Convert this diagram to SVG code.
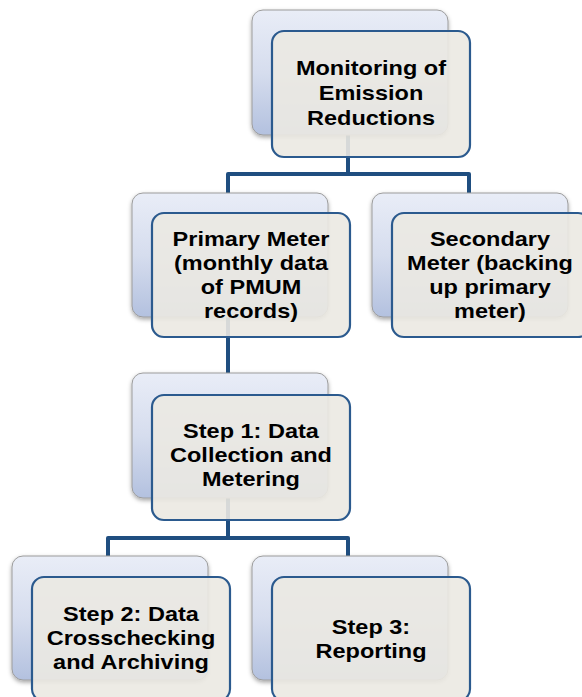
<svg xmlns="http://www.w3.org/2000/svg" width="582" height="697" viewBox="0 0 582 697">
  <defs>
    <linearGradient id="backGrad" x1="0" y1="0" x2="0" y2="1">
      <stop offset="0" stop-color="#e9edf7"/>
      <stop offset="0.5" stop-color="#d6ddee"/>
      <stop offset="1" stop-color="#b3c1df"/>
    </linearGradient>
    <filter id="shadow" x="-10%" y="-10%" width="120%" height="125%">
      <feDropShadow dx="0" dy="2" stdDeviation="2" flood-color="#000" flood-opacity="0.35"/>
    </filter>
  </defs>
  <style>
    .back { fill: url(#backGrad); stroke: #9c9c9c; stroke-width: 1; filter: url(#shadow); }
    .front { fill: #ebe9e2; fill-opacity: 0.9; stroke: #2b5a8e; stroke-width: 2.2; }
    .conn { fill: none; stroke: #1f4e80; stroke-width: 4; stroke-linejoin: round; }
    .lbl { font-family: "Liberation Sans", Arial, sans-serif; font-weight: bold; font-size: 21px; fill: #000; text-anchor: middle; }
  </style>
  <rect width="582" height="697" fill="#ffffff"/>

  <g id="connectors">
    <path class="conn" d="M348,135 V174 H228 V193"/>
    <path class="conn" d="M348,174 H469 V193"/>
    <path class="conn" d="M228,317 V373"/>
    <path class="conn" d="M228,498 V538 H108 V556"/>
    <path class="conn" d="M228,538 H348 V556"/>
  </g>

  <g id="node-monitoring">
    <rect class="back" x="252" y="10" width="196" height="125" rx="11"/>
    <rect class="front" x="272" y="31" width="198" height="126" rx="12"/>
    <text class="lbl" transform="translate(371,0) scale(1.12,1)" y="75"><tspan x="0">Monitoring of</tspan><tspan x="0" dy="25">Emission</tspan><tspan x="0" dy="25">Reductions</tspan></text>
  </g>

  <g id="node-primary">
    <rect class="back" x="132" y="193" width="196" height="124" rx="11"/>
    <rect class="front" x="152" y="213" width="198" height="124" rx="12"/>
    <text class="lbl" transform="translate(251,0) scale(1.12,1)" y="246"><tspan x="0">Primary Meter</tspan><tspan x="0" dy="24">(monthly data</tspan><tspan x="0" dy="24">of PMUM</tspan><tspan x="0" dy="24">records)</tspan></text>
  </g>

  <g id="node-secondary">
    <rect class="back" x="372" y="193" width="196" height="124" rx="11"/>
    <rect class="front" x="392" y="213" width="198" height="124" rx="12"/>
    <text class="lbl" transform="translate(490,0) scale(1.12,1)" y="246"><tspan x="0">Secondary</tspan><tspan x="0" dy="24">Meter (backing</tspan><tspan x="0" dy="24">up primary</tspan><tspan x="0" dy="24">meter)</tspan></text>
  </g>

  <g id="node-step1">
    <rect class="back" x="132" y="373" width="196" height="125" rx="11"/>
    <rect class="front" x="152" y="395" width="198" height="125" rx="12"/>
    <text class="lbl" transform="translate(251,0) scale(1.12,1)" y="438"><tspan x="0">Step 1: Data</tspan><tspan x="0" dy="24">Collection and</tspan><tspan x="0" dy="24">Metering</tspan></text>
  </g>

  <g id="node-step2">
    <rect class="back" x="12" y="556" width="196" height="124" rx="11"/>
    <rect class="front" x="32" y="577" width="198" height="124" rx="12"/>
    <text class="lbl" transform="translate(131,0) scale(1.12,1)" y="621"><tspan x="0">Step 2: Data</tspan><tspan x="0" dy="24">Crosschecking</tspan><tspan x="0" dy="24">and Archiving</tspan></text>
  </g>

  <g id="node-step3">
    <rect class="back" x="252" y="556" width="196" height="124" rx="11"/>
    <rect class="front" x="272" y="577" width="198" height="124" rx="12"/>
    <text class="lbl" transform="translate(371,0) scale(1.12,1)" y="634"><tspan x="0">Step 3:</tspan><tspan x="0" dy="24">Reporting</tspan></text>
  </g>
</svg>
